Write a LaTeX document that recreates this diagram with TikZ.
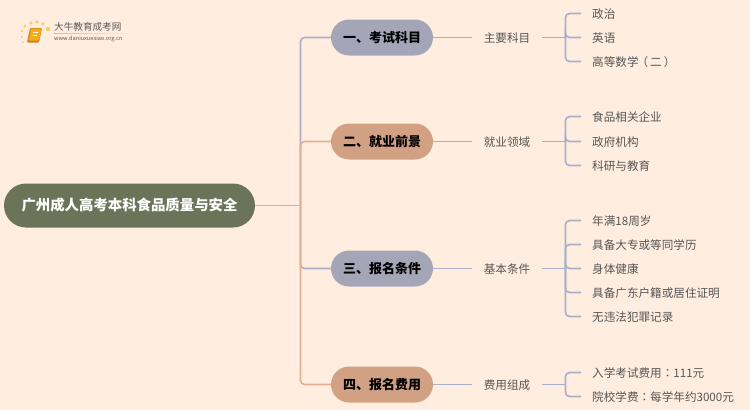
\documentclass[tikz,border=0pt]{standalone}
\usepackage{fontspec}
\setmainfont[Kerning=Off]{Noto Sans CJK SC}
\newfontfamily\colonfont{Noto Sans CJK TC}
\usetikzlibrary{calc}
\definecolor{pageBg}{RGB}{255,238,224}
\definecolor{rootGreen}{RGB}{107,116,88}
\definecolor{pillGray}{RGB}{165,165,184}
\definecolor{pillTan}{RGB}{210,161,132}
\definecolor{lineBlue}{RGB}{170,175,200}
\definecolor{lineTan}{RGB}{226,175,148}
\definecolor{leafText}{RGB}{85,85,85}
\definecolor{bookOrange}{RGB}{240,150,35}
\definecolor{dotYellow}{RGB}{250,205,100}
\tikzset{
    rootbox/.style={
        rectangle,
        rounded corners=22pt,
        fill=rootGreen,
        text=white,
        minimum width=251pt,
        minimum height=44pt,
        inner sep=0pt,
        text height=13.3pt,
        text depth=2.4pt,
        font=\fontsize{14.4}{16}\selectfont\bfseries
    },
    branchbox/.style={
        rectangle,
        rounded corners=18pt,
        minimum width=102pt,
        minimum height=36pt,
        inner sep=0pt,
        text height=12pt,
        text depth=2.2pt,
        text=black,
        font=\fontsize{13}{15}\selectfont\bfseries
    },
    midbox/.style={
        inner xsep=12pt,
        inner ysep=2pt,
        text height=11pt,
        text depth=2pt,
        text=leafText,
        font=\fontsize{11.6}{14}\selectfont
    },
    leafbox/.style={
        anchor=west,
        inner xsep=11pt,
        inner ysep=2pt,
        text height=11pt,
        text depth=2pt,
        text=leafText,
        font=\fontsize{11.6}{14}\selectfont
    },
    blueline/.style={draw=lineBlue, line width=1.6pt, rounded corners=4pt},
    tanline/.style={draw=lineTan, line width=1.6pt, rounded corners=4pt},
    logotext/.style={inner sep=0pt, anchor=west, text=black!65}
}

\begin{document}
\begin{tikzpicture}[x=1pt,y=-1pt]
    \fill[pageBg] (0,0) rectangle (750,410);
    \useasboundingbox (0,0) rectangle (750,410);

    % logo
    \foreach \x/\y/\r in {25/26/1.7,31/23/1.9,37/22/1.9,43/24/1.9,48/29/2.2,22/31/1.3,22/37/1.1,23/42/1}
        \fill[dotYellow] (\x,\y) circle (\r);
    \fill[bookOrange!85!black, rounded corners=1pt] (30,28) -- (42,28) -- (39,42.5) -- (27,42.5) -- cycle;
    \fill[bookOrange!80!yellow, rounded corners=1pt] (31,28.5) -- (41.5,28.5) -- (39,40.5) -- (28.5,40.5) -- cycle;
    \draw[white, line width=0.7pt] (33,32) -- (38,32) (32.5,35) -- (37,35);
    \node[logotext, font=\fontsize{9.6}{11}\selectfont] (logoname) at (54,27) {大牛教育成考网};
    \node[logotext, font=\fontsize{5.6}{7}\selectfont] (logourl) at (54,39) {www.daniuxuexiao.org.cn};
    \fill[left color=black!25, right color=pageBg] (54,33.2) rectangle (132,33.9);

    \node[rootbox] (root) at (129.5,205.5) {广州成人高考本科食品质量与安全};
    \node[branchbox, fill=pillGray] (kemu) at (382,37.5) {一、考试科目};
    \node[branchbox, fill=pillTan] (jiuye) at (382,141.5) {二、就业前景};
    \node[branchbox, fill=pillGray] (tiaojian) at (382,268.5) {三、报名条件};
    \node[branchbox, fill=pillTan] (feiyong) at (382,384.5) {四、报名费用};

    \node[midbox] (zhuyao) at (507,37.5) {主要科目};
    \node[midbox] (lingyu) at (507,141.5) {就业领域};
    \node[midbox] (jiben) at (507,268.5) {基本条件};
    \node[midbox] (zucheng) at (507,384.5) {费用组成};

    % trunk, drawn so that the tan lines lie over the blue ones
    \coordinate (trunk) at (300.5,205.5);
    \draw[blueline] (trunk) -- (trunk|-kemu) -- (kemu.west);
    \draw[blueline] (trunk) -- (trunk|-tiaojian) -- (tiaojian.west);
    \draw[tanline] (trunk) -- (trunk|-jiuye) -- (jiuye.west);
    \draw[tanline] (trunk) -- (trunk|-feiyong) -- (feiyong.west);
    \draw[tanline] (root.east) -- (trunk);

    \coordinate (fork) at (565.5,0);
    \foreach \a/\b in {kemu/zhuyao,jiuye/lingyu,tiaojian/jiben,feiyong/zucheng} {
        \draw[blueline] (\a.east) -- (\b.west);
        \draw[blueline] (\b.east) -- (fork|-\b);
    }

    \foreach \n/\y/\name/\up in {
        a/13.5/政治/zhuyao, b/37.5/英语/zhuyao, c/61.5/高等数学\kern-2pt（\kern2pt 二\kern2pt ）\kern-2pt/zhuyao,
        d/116.5/食品相关企业/lingyu, e/141.5/政府机构/lingyu, f/165.5/科研与教育/lingyu,
        g/220.5/年满18周岁/jiben, h/244.5/具备大专或等同学历/jiben, i/268.5/身体健康/jiben,
        j/292.5/具备广东户籍或居住证明/jiben, k/316.5/无违法犯罪记录/jiben,
        l/372.5/入学考试费用{\colonfont ：}111元/zucheng, m/396.5/院校学费{\colonfont ：}每学年约3000元/zucheng} {
        \node[leafbox] (leaf\n) at (581,\y) {\name};
        \draw[blueline] (fork|-\up) -- (fork|-leaf\n) -- (leaf\n.west);
    }
\end{tikzpicture}
\end{document}
